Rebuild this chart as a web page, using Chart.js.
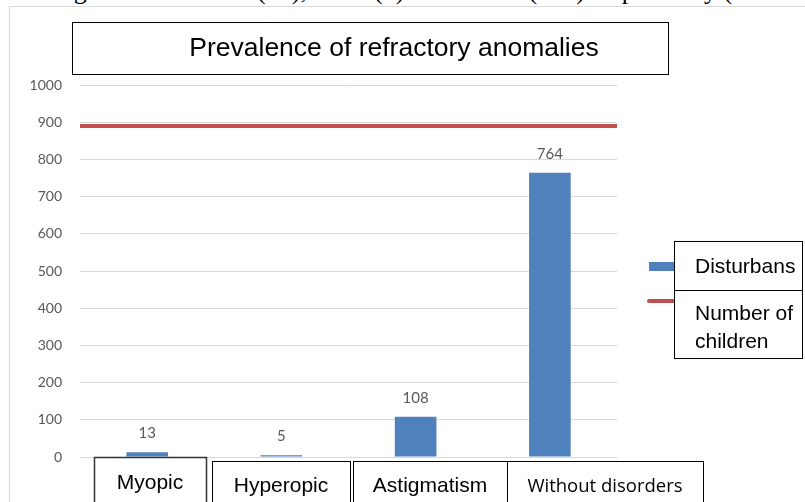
<!DOCTYPE html>
<html>
<head>
<meta charset="utf-8">
<script src="https://cdn.jsdelivr.net/npm/chart.js@4.4.1/dist/chart.umd.min.js"></script>
<style>
  html, body { margin: 0; padding: 0; background: #fff; overflow: hidden; }
  #wrap { position: relative; width: 805px; height: 502px; }
  #docText {
    position: absolute; left: 0; top: -22px; white-space: nowrap;
    font: 26px "Liberation Serif", "Times New Roman", serif; color: #000;
    line-height: 26px;
  }
  canvas { position: absolute; left: 0; top: 0; }
</style>
</head>
<body>
<div id="wrap">
  <div id="docText">a d astigmatism in 1.3% (13), 0.5% (5) and 10.8% (108) respectively (1</div>
  <canvas id="resultChart" width="805" height="502"></canvas>
</div>
<script>
const categories = ['Myopic', 'Hyperopic', 'Astigmatism', 'Without disorders'];
const disturbans = [13, 5, 108, 764];
const numberOfChildren = 890;
const seriesLabels = ['Disturbans', 'Number of children'];
const chartTitle = 'Prevalence of refractory anomalies';
const yMin = 0, yMax = 1000, yStep = 100;

// text boxes laid over the category axis (left, right, top) as in the document
const catBoxes = [
  { l: 94, r: 206, t: 457, font: '21px "Liberation Sans", Arial', heavy: true },
  { l: 212, r: 350, t: 461, font: '21px "Liberation Sans", Arial' },
  { l: 353, r: 507, t: 461, font: '21px "Liberation Sans", Arial' },
  { l: 507, r: 703, t: 461, font: '18.5px "Open Sans", sans-serif' }
];

const decorations = {
  id: 'decorations',
  beforeDraw(chart) {
    const ctx = chart.ctx;
    ctx.save();
    ctx.strokeStyle = '#d9d9d9';
    ctx.lineWidth = 1;
    ctx.beginPath();
    ctx.moveTo(9.5, 502);
    ctx.lineTo(9.5, 6.5);
    ctx.lineTo(805, 6.5);
    ctx.stroke();
    ctx.restore();
  },
  afterDatasetsDraw(chart) {
    const ctx = chart.ctx;
    const xs = chart.scales.x, ys = chart.scales.y;
    ctx.save();

    // value labels above bars
    ctx.fillStyle = '#595959';
    ctx.font = '15px Lato, "Open Sans", sans-serif';
    ctx.textAlign = 'center';
    ctx.textBaseline = 'alphabetic';
    disturbans.forEach((v, i) => {
      ctx.fillText(String(v), xs.getPixelForValue(i), ys.getPixelForValue(v) - 14);
    });

    // title box
    ctx.fillStyle = '#fff';
    ctx.fillRect(72, 22, 596, 52);
    ctx.strokeStyle = '#000';
    ctx.lineWidth = 1;
    ctx.strokeRect(72.5, 22.5, 596, 52);
    ctx.fillStyle = '#000';
    ctx.font = '26.5px "Liberation Sans", Arial';
    ctx.textBaseline = 'middle';
    ctx.fillText(chartTitle, 394, 49);

    // category boxes
    categories.forEach((c, i) => {
      const b = catBoxes[i];
      ctx.fillStyle = '#fff';
      ctx.fillRect(b.l, b.t, b.r - b.l, 60);
      ctx.strokeStyle = b.heavy ? '#333' : '#000';
      ctx.lineWidth = b.heavy ? 1.5 : 1;
      ctx.strokeRect(b.l + 0.5, b.t + 0.5, b.r - b.l, 60);
      ctx.fillStyle = '#000';
      ctx.font = b.font;
      ctx.textBaseline = 'alphabetic';
      ctx.textAlign = 'center';
      ctx.fillText(c, (b.l + b.r) / 2, b.heavy ? 489 : 492);
    });

    // legend
    const ds = chart.data.datasets;
    ctx.fillStyle = ds[0].backgroundColor;
    ctx.fillRect(649, 262, 27, 9);
    ctx.strokeStyle = ds[1].borderColor;
    ctx.lineWidth = 4;
    ctx.lineCap = 'round';
    ctx.beginPath();
    ctx.moveTo(649, 301);
    ctx.lineTo(676, 301);
    ctx.stroke();
    ctx.lineCap = 'butt';
    ctx.fillStyle = '#fff';
    ctx.fillRect(674, 241, 131, 118);
    ctx.strokeStyle = '#000';
    ctx.lineWidth = 1;
    ctx.strokeRect(674.5, 241.5, 128, 49);
    ctx.strokeRect(674.5, 290.5, 128, 68);
    ctx.fillStyle = '#000';
    ctx.font = '21px "Liberation Sans", Arial';
    ctx.textAlign = 'left';
    ctx.fillText(ds[0].label, 695, 273);
    const words = ds[1].label.split(' ');
    ctx.fillText(words.slice(0, 2).join(' '), 695, 320);
    ctx.fillText(words.slice(2).join(' '), 695, 348);
    ctx.restore();
  }
};

const ctx = document.getElementById('resultChart').getContext('2d');
new Chart(ctx, {
  data: {
    labels: categories,
    datasets: [
      {
        type: 'bar',
        label: seriesLabels[0],
        data: disturbans,
        backgroundColor: '#4f81bd',
        barPercentage: 0.31,
        categoryPercentage: 1,
        grouped: false,
        xAxisID: 'x',
        order: 2
      },
      {
        type: 'line',
        label: seriesLabels[1],
        data: [{ x: -0.5, y: numberOfChildren }, { x: categories.length - 0.5, y: numberOfChildren }],
        borderColor: '#c0504d',
        borderWidth: 4,
        pointRadius: 0,
        xAxisID: 'xl',
        order: 1
      }
    ]
  },
  options: {
    responsive: false,
    animation: false,
    layout: { padding: { left: 0, right: 188, top: 85, bottom: 45 } },
    plugins: { legend: { display: false }, tooltip: { enabled: false }, title: { display: false } },
    scales: {
      x: { type: 'category', display: false, offset: true },
      xl: { type: 'linear', display: false, min: -0.5, max: categories.length - 0.5 },
      y: {
        min: yMin, max: yMax,
        afterFit(scale) { scale.width = 80; },
        border: { display: false },
        grid: { color: '#d9d9d9', lineWidth: 1, drawTicks: false },
        ticks: {
          stepSize: yStep, padding: 18, color: '#595959',
          font: { family: 'Lato, "Open Sans", sans-serif', size: 14 },
          callback: v => String(v)
        }
      }
    }
  },
  plugins: [decorations]
});
</script>
</body>
</html>
